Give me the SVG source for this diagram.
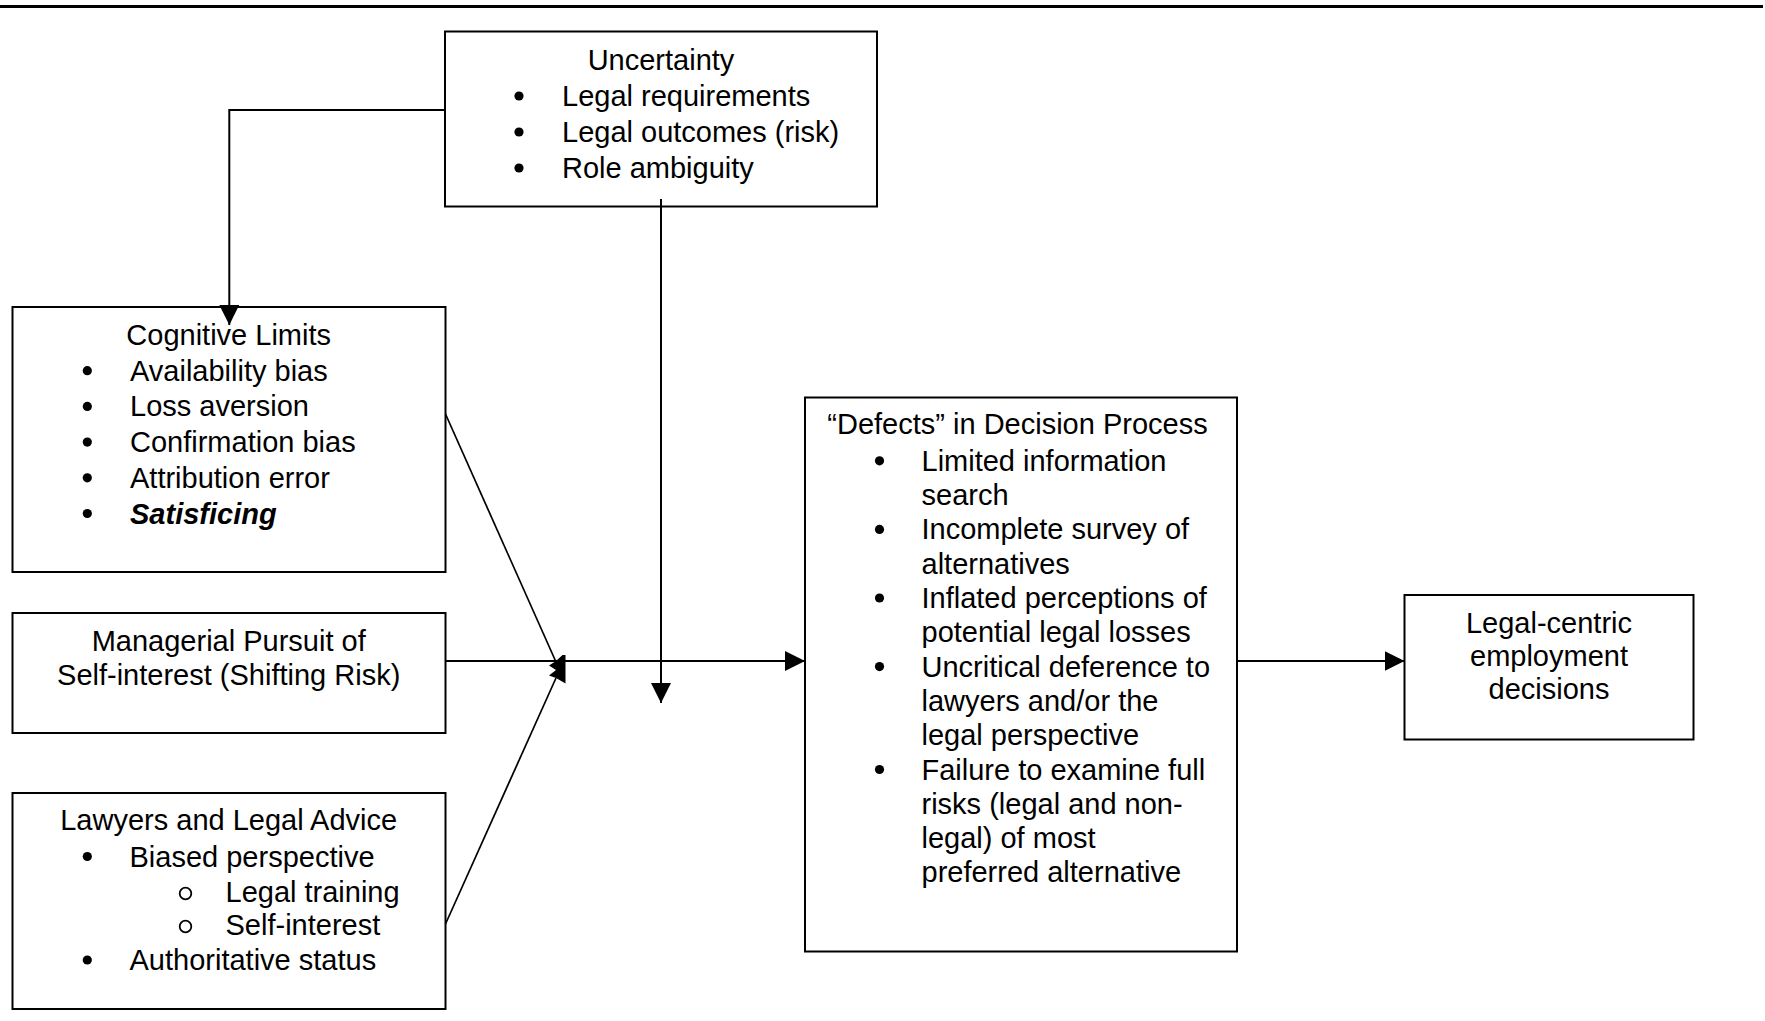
<svg xmlns="http://www.w3.org/2000/svg" width="1765" height="1021" viewBox="0 0 1765 1021">
<style>
.box{fill:#fff;stroke:#000;stroke-width:2}
.t{font-family:"Liberation Sans",Arial,Helvetica,sans-serif;font-size:29px;fill:#000}
.c{text-anchor:middle}
.b{fill:#000}
.o{fill:none;stroke:#000;stroke-width:1.8}
.ln{fill:none;stroke:#000;stroke-width:2}
.dg{fill:none;stroke:#000;stroke-width:1.7}
</style>
<defs>
<marker id="ah" markerUnits="userSpaceOnUse" markerWidth="20" markerHeight="20" refX="20" refY="10" orient="auto">
<path d="M0,0 L20,10 L0,20 z" fill="#000"/>
</marker>
</defs>
<rect width="1765" height="1021" fill="#fff"/>
<line x1="0" y1="6.5" x2="1763" y2="6.5" stroke="#000" stroke-width="2.8"/>

<g id="uncertainty">
<rect class="box" x="445" y="31.5" width="432" height="175"/>
<text class="t c" x="661" y="70">Uncertainty</text>
<circle class="b" cx="519" cy="96" r="4.6"/>
<circle class="b" cx="519" cy="132" r="4.6"/>
<circle class="b" cx="519" cy="168" r="4.6"/>
<text class="t" x="562" y="106">Legal requirements</text>
<text class="t" x="562" y="142">Legal outcomes (risk)</text>
<text class="t" x="562" y="178">Role ambiguity</text>
</g>

<g id="cognitive">
<rect class="box" x="12.5" y="307" width="433" height="265"/>
<text class="t c" x="228.7" y="345">Cognitive Limits</text>
<circle class="b" cx="87.3" cy="370.7" r="4.6"/>
<circle class="b" cx="87.3" cy="406.4" r="4.6"/>
<circle class="b" cx="87.3" cy="442.1" r="4.6"/>
<circle class="b" cx="87.3" cy="477.8" r="4.6"/>
<circle class="b" cx="87.3" cy="513.5" r="4.6"/>
<text class="t" x="130" y="380.7">Availability bias</text>
<text class="t" x="130" y="416.4">Loss aversion</text>
<text class="t" x="130" y="452.1">Confirmation bias</text>
<text class="t" x="130" y="487.8">Attribution error</text>
<text class="t" x="130" y="523.5" font-weight="bold" font-style="italic">Satisficing</text>
</g>

<g id="managerial">
<rect class="box" x="12.5" y="613" width="433" height="120"/>
<text class="t c" x="228.7" y="651">Managerial Pursuit of</text>
<text class="t c" x="228.7" y="685">Self-interest (Shifting Risk)</text>
</g>

<g id="lawyers">
<rect class="box" x="12.5" y="793" width="433" height="216"/>
<text class="t c" x="228.7" y="830">Lawyers and Legal Advice</text>
<circle class="b" cx="87.3" cy="856.5" r="4.6"/>
<text class="t" x="129.5" y="866.5">Biased perspective</text>
<circle class="o" cx="185.5" cy="893.5" r="5.8"/>
<text class="t" x="225.5" y="901.5">Legal training</text>
<circle class="o" cx="185.5" cy="926.5" r="5.8"/>
<text class="t" x="225.5" y="934.5">Self-interest</text>
<circle class="b" cx="87.3" cy="960" r="4.6"/>
<text class="t" x="129.5" y="970">Authoritative status</text>
</g>

<g id="defects">
<rect class="box" x="805" y="397.5" width="432" height="554"/>
<text class="t c" x="1017.5" y="434">“Defects” in Decision Process</text>
<circle class="b" cx="879.5" cy="460.8" r="4.6"/>
<circle class="b" cx="879.5" cy="529.4" r="4.6"/>
<circle class="b" cx="879.5" cy="598" r="4.6"/>
<circle class="b" cx="879.5" cy="666.6" r="4.6"/>
<circle class="b" cx="879.5" cy="769.5" r="4.6"/>
<text class="t" x="921.5" y="470.8">Limited information</text>
<text class="t" x="921.5" y="505.1">search</text>
<text class="t" x="921.5" y="539.4">Incomplete survey of</text>
<text class="t" x="921.5" y="573.7">alternatives</text>
<text class="t" x="921.5" y="608">Inflated perceptions of</text>
<text class="t" x="921.5" y="642.3">potential legal losses</text>
<text class="t" x="921.5" y="676.6">Uncritical deference to</text>
<text class="t" x="921.5" y="710.9">lawyers and/or the</text>
<text class="t" x="921.5" y="745.2">legal perspective</text>
<text class="t" x="921.5" y="779.5">Failure to examine full</text>
<text class="t" x="921.5" y="813.8">risks (legal and non-</text>
<text class="t" x="921.5" y="848.1">legal) of most</text>
<text class="t" x="921.5" y="882.4">preferred alternative</text>
</g>

<g id="legalcentric">
<rect class="box" x="1404.5" y="595" width="289" height="144.5"/>
<text class="t c" x="1549" y="633">Legal-centric</text>
<text class="t c" x="1549" y="666">employment</text>
<text class="t c" x="1549" y="699">decisions</text>
</g>

<g id="connectors">
<polyline class="ln" points="445,110 229.3,110 229.3,325" marker-end="url(#ah)"/>
<line class="ln" x1="661" y1="199" x2="661" y2="703" marker-end="url(#ah)"/>
<line class="ln" x1="445.5" y1="661" x2="805" y2="661" marker-end="url(#ah)"/>
<line class="ln" x1="1237" y1="661" x2="1404.5" y2="661" marker-end="url(#ah)"/>
<line class="dg" x1="445.5" y1="414" x2="556" y2="662"/>
<line class="dg" x1="445.5" y1="924" x2="556" y2="678"/>
<polygon fill="#000" points="562.5,655 565.5,655 565.5,683.5 556,678 549,675.5 556,670 549,665.5 556,661"/>
</g>
</svg>
